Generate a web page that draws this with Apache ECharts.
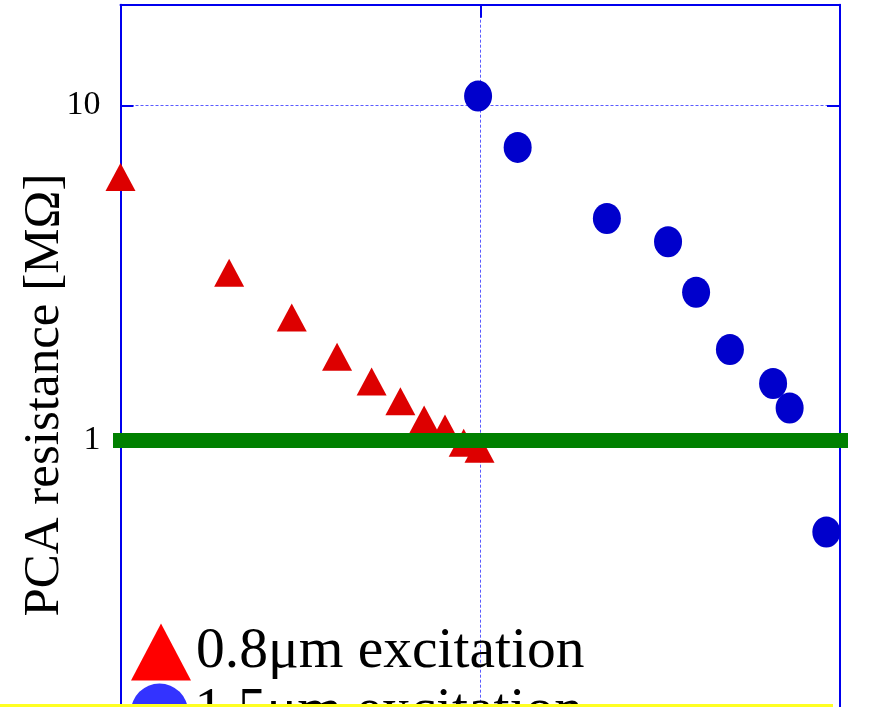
<!DOCTYPE html>
<html>
<head>
<meta charset="utf-8">
<script src="https://cdn.jsdelivr.net/npm/echarts@6/dist/echarts.min.js"></script>
<style>
  html, body { margin: 0; padding: 0; background: #fff; }
  #chart { width: 874px; height: 707px; }
</style>
</head>
<body>
<div id="chart"></div>
<script>
// 0.8 um excitation (red triangles)
const exc08X = [0, 15.1, 23.8, 30.1, 34.9, 38.9, 42.2, 45.1, 47.7, 49.9];
const exc08R = [6.12, 3.17, 2.33, 1.78, 1.5, 1.31, 1.155, 1.087, 0.985, 0.945];
// 1.5 um excitation (blue circles)
const exc15X = [49.7, 55.2, 67.6, 76.1, 80.0, 84.7, 90.7, 93.0, 98.1];
const exc15R = [10.67, 7.5, 4.6, 3.92, 2.77, 1.87, 1.48, 1.25, 0.533];
// 1 MOhm reference line
const refX = [-1.2, 101.7];
const refR = [1, 1];

const seriesNames = ['0.8\u03bcm excitation', '1.5\u03bcm excitation'];
const yName = 'PCA resistance [M\u03a9]';

const serif = '"Liberation Serif", "DejaVu Serif", serif';
const axisBlue = '#0000ee';
const gridBlue = '#5a5aff';
const ellipse = 'path://M50,0A50,50,0,1,1,49.99,0Z';

function pairs(xs, ys) {
    return xs.map((x, i) => [x, ys[i]]);
}

function legendAt(top, name, icon, color) {
    return {
        orient: 'vertical',
        left: 131,
        top: top,
        padding: 0,
        itemWidth: 60,
        itemHeight: 57,
        textStyle: { fontFamily: serif, fontSize: 57.5, color: '#000' },
        data: [{ name: name, icon: icon, itemStyle: { color: color } }]
    };
}

const boxLine = { show: true, onZero: false, lineStyle: { color: axisBlue, width: 2 } };
const boxTick = { show: true, inside: true, length: 13, lineStyle: { color: axisBlue, width: 2 } };

const chartDom = document.getElementById('chart');
const myChart = echarts.init(chartDom);

const option = {
    animation: false,
    grid: {
        left: 120.5,
        right: 34,
        top: 4.7,
        bottom: -68.5,
        outerBoundsMode: 'none'
    },
    legend: [
        legendAt(623, seriesNames[0], 'triangle', '#ff0000'),
        legendAt(683, seriesNames[1], 'circle', '#3333ff')
    ],
    xAxis: [
        {
            type: 'value',
            position: 'bottom',
            min: 0,
            max: 100,
            interval: 50,
            axisLine: boxLine,
            axisTick: boxTick,
            axisLabel: { show: false },
            splitLine: { show: true, lineStyle: { color: gridBlue, width: 1, type: [3, 2] } }
        },
        {
            type: 'value',
            position: 'top',
            min: 0,
            max: 100,
            interval: 50,
            axisLine: boxLine,
            axisTick: boxTick,
            axisLabel: { show: false },
            splitLine: { show: false }
        }
    ],
    yAxis: [
        {
            type: 'log',
            logBase: 10,
            position: 'left',
            min: 0.1,
            max: 20,
            name: yName,
            nameLocation: 'middle',
            nameGap: 50,
            nameMoveOverlap: false,
            nameTextStyle: {
                fontFamily: serif,
                fontSize: 51,
                color: '#000',
                padding: [0, 10, 0, 0]
            },
            axisLine: boxLine,
            axisTick: boxTick,
            axisLabel: {
                fontFamily: serif,
                fontSize: 34,
                color: '#000',
                margin: 20,
                showMinLabel: false,
                showMaxLabel: false
            },
            splitLine: { show: true, lineStyle: { color: gridBlue, width: 1, type: [3, 2] } }
        },
        {
            type: 'log',
            logBase: 10,
            position: 'right',
            min: 0.1,
            max: 20,
            axisLine: boxLine,
            axisTick: boxTick,
            axisLabel: { show: false },
            splitLine: { show: false }
        }
    ],
    series: [
        {
            name: seriesNames[0],
            type: 'scatter',
            symbol: 'triangle',
            symbolSize: [30, 28],
            itemStyle: { color: '#dd0000', opacity: 1 },
            data: pairs(exc08X, exc08R)
        },
        {
            name: seriesNames[1],
            type: 'scatter',
            symbol: ellipse,
            symbolSize: [28, 31],
            itemStyle: { color: '#0000cc', opacity: 1 },
            data: pairs(exc15X, exc15R)
        },
        {
            name: 'ref',
            type: 'line',
            clip: false,
            symbol: 'none',
            lineStyle: { color: '#008000', width: 15 },
            data: pairs(refX, refR),
            z: 3
        }
    ],
    graphic: [
        {
            type: 'rect',
            z: 100,
            shape: { x: 0, y: 704, width: 833, height: 10 },
            style: { fill: '#ffff22' }
        }
    ]
};

myChart.setOption(option);

window.addEventListener('resize', () => {
    myChart.resize();
});
</script>
</body>
</html>
